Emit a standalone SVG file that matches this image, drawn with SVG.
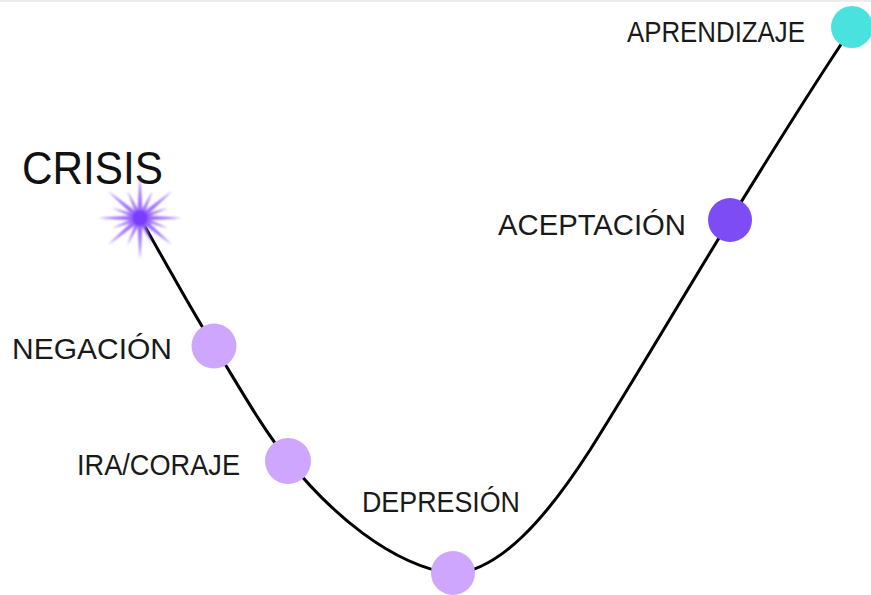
<svg xmlns="http://www.w3.org/2000/svg" width="871" height="595" viewBox="0 0 871 595">
  <defs>
    <style>
      .lbl { font-family: "Liberation Sans", "DejaVu Sans", sans-serif; font-size: 29px; fill: #1a1a1a; }
      .big { font-size: 46px; fill: #111; }
      .light { fill: #cea6fd; }
      .dark { fill: #7e4cf5; }
      .cyan { fill: #4ae2df; }
      .curve { fill: none; stroke: #000; stroke-width: 3; stroke-linecap: round; }
      .ray { fill: #9b6bff; }
    </style>
    <polygon id="ray" points="0,-3 42,0 0,3"/>
    <polygon id="sray" points="0,-2.5 30,0 0,2.5"/>
    <filter id="glow" x="-50%" y="-50%" width="200%" height="200%">
      <feGaussianBlur stdDeviation="1"/>
    </filter>
  </defs>
  <rect x="0" y="0" width="871" height="595" fill="#ffffff"/>
  <rect x="0" y="0" width="871" height="2" fill="#ededed"/>

  <g id="connectors">
    <path class="curve" d="M140,218 C170,270 190,308 214,346 C240,388 262,428 288,460 C330,512 390,565 453,574 C500,570 545,520 590,450 C625,395 690,285 730,220 C770,155 810,90 852,28"/>
  </g>

  <g id="crisis">
    <text class="lbl big" x="22" y="184" textLength="141" lengthAdjust="spacingAndGlyphs">CRISIS</text>
    <g transform="translate(140,218)" filter="url(#glow)" class="ray">
      <use href="#ray" transform="rotate(0)"/>
      <use href="#ray" transform="rotate(180)"/>
      <use href="#ray" transform="rotate(90)"/>
      <use href="#ray" transform="rotate(-90)"/>
      <use href="#ray" transform="rotate(-40)"/>
      <use href="#ray" transform="rotate(140)"/>
      <use href="#ray" transform="rotate(40)"/>
      <use href="#ray" transform="rotate(-140)"/>
      <use href="#sray" transform="rotate(-20)"/>
      <use href="#sray" transform="rotate(20)"/>
      <use href="#sray" transform="rotate(65)"/>
      <use href="#sray" transform="rotate(115)"/>
      <use href="#sray" transform="rotate(160)"/>
      <use href="#sray" transform="rotate(200)"/>
      <use href="#sray" transform="rotate(245)"/>
      <use href="#sray" transform="rotate(295)"/>
      <circle r="8" fill="#7a3cff"/>
    </g>
  </g>

  <g id="negacion">
    <circle class="light" cx="214" cy="346" r="22.5"/>
    <text class="lbl" x="12" y="359" textLength="160" lengthAdjust="spacingAndGlyphs">NEGACIÓN</text>
  </g>

  <g id="ira">
    <circle class="light" cx="288" cy="461" r="23"/>
    <text class="lbl" x="77" y="475" textLength="163" lengthAdjust="spacingAndGlyphs">IRA/CORAJE</text>
  </g>

  <g id="depresion">
    <circle class="light" cx="453" cy="573" r="22"/>
    <text class="lbl" x="362" y="512" textLength="158" lengthAdjust="spacingAndGlyphs">DEPRESIÓN</text>
  </g>

  <g id="aceptacion">
    <circle class="dark" cx="730" cy="220" r="22"/>
    <text class="lbl" x="498" y="235" textLength="188" lengthAdjust="spacingAndGlyphs">ACEPTACIÓN</text>
  </g>

  <g id="aprendizaje">
    <circle class="cyan" cx="852" cy="27" r="21"/>
    <text class="lbl" x="627" y="42" textLength="178" lengthAdjust="spacingAndGlyphs">APRENDIZAJE</text>
  </g>
</svg>
